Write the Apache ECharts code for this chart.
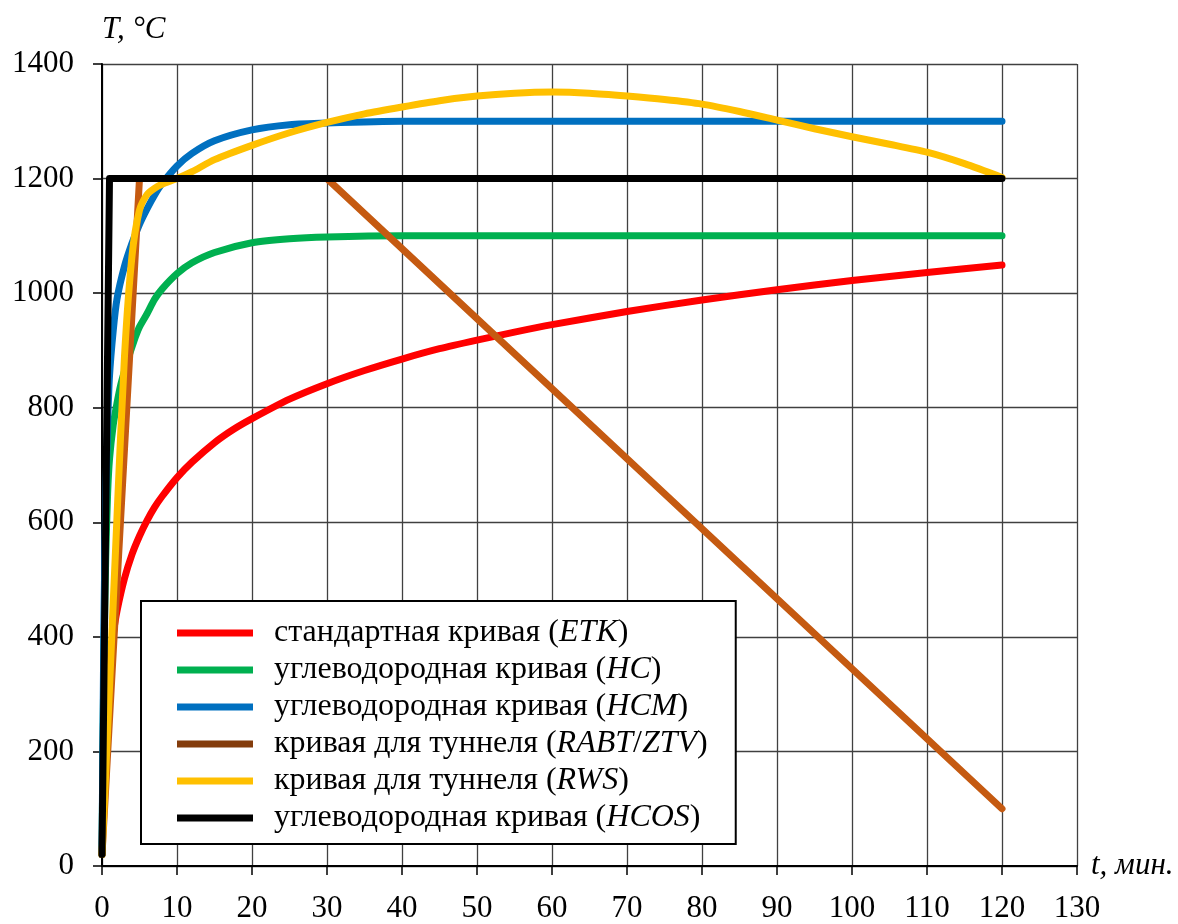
<!DOCTYPE html>
<html>
<head>
<meta charset="utf-8">
<script src="https://cdn.jsdelivr.net/npm/echarts@6/dist/echarts.min.js"></script>
<style>
html,body{margin:0;padding:0;background:#fff;}
#chart{width:1178px;height:924px;}
</style>
</head>
<body>
<div id="chart"></div>
<script>
// Series names
const seriesNames = [
  'стандартная кривая (ETK)',
  'углеводородная кривая (HC)',
  'углеводородная кривая (HCM)',
  'кривая для туннеля (RABT/ZTV)',
  'кривая для туннеля (RWS)',
  'углеводородная кривая (HCOS)'
];
// [time, min ; temperature, °C]
const etkData = [[0,20],[0.25,185],[0.5,261],[1,349],[1.5,405],[2,445],[3,502],[4,544],[5,576],[6,603],[7,626],[8,645],[10,678],[12,705],[15,739],[17.5,762],[20,781],[25,815],[30,842],[35,865],[40,885],[45,903],[50,918],[55,932],[60,945],[70,968],[80,988],[90,1006],[100,1022],[110,1036],[120,1049]];
const hcData = [[0,20],[0.25,360],[0.5,540],[0.75,650],[1,710],[1.5,770],[2,808],[2.5,840],[3,864],[3.5,886],[4,906],[4.5,925],[5,941],[6,964],[7,989],[8,1007],[10,1034],[12,1053],[15,1071],[20,1088],[25,1095],[30,1098],[40,1100],[60,1100],[80,1100],[100,1100],[120,1100]];
const hcmData = [[0,20],[0.25,420],[0.5,640],[0.75,770],[1,855],[1.5,935],[2,990],[3,1047],[4,1087],[5,1120],[6,1147],[7,1171],[8,1191],[10,1222],[12,1244],[15,1266],[20,1285],[25,1294],[30,1297],[40,1300],[60,1300],[80,1300],[100,1300],[120,1300]];
const rabtData = [[0,20],[5,1200],[30,1200],[120,100]];
const rwsData = [[0,20],[1,310],[2,610],[3,890],[4,1065],[5,1145],[6,1172],[7,1183],[8,1190],[10,1200],[12,1212],[15,1233],[20,1258],[25,1280],[30,1298],[35,1313],[40,1325],[45,1336],[50,1344],[55,1349],[60,1351],[65,1349],[70,1344],[75,1338],[80,1330],[85,1317],[90,1302],[95,1287],[100,1273],[105,1260],[110,1246],[115,1226],[120,1202]];
const hcosData = [[0,20],[1,1200],[120,1200]];

const lineColors = ['#FF0000','#00B050','#0070C0','#C55A11','#FFC000','#000000'];
const legendColors = ['#FF0000','#00B050','#0070C0','#843C0C','#FFC000','#000000'];
const smoothFlags = [0.25, 0.25, 0.25, false, 0.25, false];
const allData = [etkData, hcData, hcmData, rabtData, rwsData, hcosData];

const FONT = '"Liberation Serif", "Times New Roman", serif';
const LFS = 32;

const chart = echarts.init(document.getElementById('chart'), null, {renderer:'canvas'});

function fmtLegend(name){
  const m = name.match(/^(.*)\((.*)\)$/);
  const parts = m[2].split('/');
  let s = '{r|' + m[1] + '(}';
  parts.forEach((p,i)=>{ if(i>0) s += '{r|/}'; s += '{i|' + p + '}'; });
  s += '{r|)}';
  return s;
}

const option = {
  backgroundColor:'#fff',
  animation:false,
  grid:{left:102, top:64, right:101, bottom:50, containLabel:false},
  xAxis:{
    type:'value', min:0, max:130, interval:10,
    name:'t, мин.', nameLocation:'end', nameGap:14,
    nameTextStyle:{fontFamily:FONT, fontSize:31, fontStyle:'italic', color:'#000', align:'left', verticalAlign:'middle', padding:[0,0,20,0]},
    axisLine:{show:true, onZero:false, lineStyle:{color:'#000', width:2}},
    axisTick:{show:true, inside:false, length:9, lineStyle:{color:'#000', width:1.5}},
    axisLabel:{fontFamily:FONT, fontSize:31, color:'#000', margin:27, formatter:v=>String(v)},
    splitLine:{show:true, lineStyle:{color:'#404040', width:1.3}}
  },
  yAxis:{
    type:'value', min:0, max:1400, interval:200,
    name:'T, °C', nameLocation:'end', nameGap:34,
    nameTextStyle:{fontFamily:FONT, fontSize:31, fontStyle:'italic', color:'#000', align:'left', verticalAlign:'middle'},
    axisLine:{show:true, onZero:false, lineStyle:{color:'#000', width:2}},
    axisTick:{show:true, inside:false, length:9, lineStyle:{color:'#000', width:1.5}},
    axisLabel:{fontFamily:FONT, fontSize:31, color:'#000', margin:28, formatter:v=>String(v)},
    splitLine:{show:true, lineStyle:{color:'#404040', width:1.3}}
  },
  legend:{
    orient:'vertical', left:141, top:601,
    padding:[16,28,10,36],
    backgroundColor:'#fff', borderColor:'#000', borderWidth:2,
    icon:'rect', itemWidth:76, itemHeight:7, itemGap:5,
    data: seriesNames.map((n,i)=>({name:n, itemStyle:{color:legendColors[i]}})),
    formatter: fmtLegend,
    textStyle:{
      fontFamily:FONT, fontSize:LFS, color:'#000', lineHeight:32, padding:[0,0,0,16],
      rich:{
        r:{fontFamily:FONT, fontSize:LFS, color:'#000', lineHeight:32},
        i:{fontFamily:FONT, fontSize:LFS, color:'#000', fontStyle:'italic', lineHeight:32}
      }
    }
  },
  series: seriesNames.map((n,i)=>({
    name:n, type:'line', data:allData[i],
    showSymbol:false, symbol:'none', smooth: smoothFlags[i],
    color: lineColors[i],
    lineStyle:{color:lineColors[i], width:7, cap:'round', join:'round'},
    z: 2+i
  }))
};
chart.setOption(option);
</script>
</body>
</html>
